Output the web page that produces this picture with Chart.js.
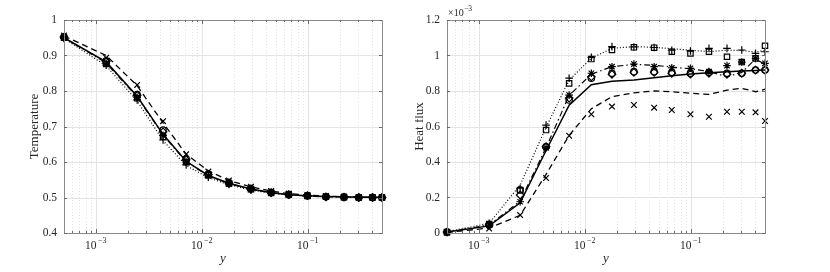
<!DOCTYPE html>
<html><head><meta charset="utf-8">
<script src="https://cdn.jsdelivr.net/npm/chart.js@4.4.1/dist/chart.umd.min.js"></script>
<style>
html,body{margin:0;padding:0;background:#fff;width:830px;height:272px;overflow:hidden}
.panel{position:absolute;top:0;width:415px;height:272px}
canvas{display:block}
</style></head><body>
<div class="panel" style="left:0"><canvas id="c1" width="415" height="272"></canvas></div>
<div class="panel" style="left:415px"><canvas id="c2" width="415" height="272"></canvas></div>
<script>
// ---------- data ----------
const yPos = [0.0005, 0.00125, 0.00245, 0.0043, 0.0071, 0.0115, 0.018, 0.029, 0.045, 0.066, 0.099, 0.148, 0.219, 0.302, 0.407, 0.5];
const xDecades = [0.001, 0.01, 0.1];
const xDecadeExp = ['\u22123', '\u22122', '\u22121'];
const xMinorTicks = [0.0006,0.0007,0.0008,0.0009, 0.002,0.003,0.004,0.005,0.006,0.007,0.008,0.009,
                     0.02,0.03,0.04,0.05,0.06,0.07,0.08,0.09, 0.2,0.3,0.4];
const tempTicks = [0.4, 0.5, 0.6, 0.7, 0.8, 0.9, 1];
const fluxTicks = [0, 0.2, 0.4, 0.6, 0.8, 1, 1.2];

// Temperature
const tempSolid   = [0.950, 0.882, 0.785, 0.678, 0.602, 0.562, 0.540, 0.524, 0.514, 0.508, 0.505, 0.503, 0.502, 0.501, 0.501, 0.500];
const tempDashed  = [0.955, 0.900, 0.815, 0.710, 0.622, 0.575, 0.548, 0.530, 0.518, 0.511, 0.507, 0.504, 0.502, 0.501, 0.501, 0.500];
const tempDotted  = [0.948, 0.871, 0.772, 0.660, 0.590, 0.556, 0.536, 0.521, 0.512, 0.507, 0.504, 0.502, 0.501, 0.500, 0.500, 0.500];
const tempDashDot = [0.950, 0.879, 0.783, 0.676, 0.601, 0.561, 0.539, 0.523, 0.513, 0.508, 0.504, 0.502, 0.501, 0.500, 0.500, 0.500];
const tempPlus    = [0.948, 0.873, 0.775, 0.662, 0.592, 0.557, 0.537, 0.521, 0.512, 0.507, 0.504, 0.502, 0.501, 0.500, 0.500, 0.500];
const tempStar    = [0.950, 0.878, 0.782, 0.675, 0.600, 0.561, 0.539, 0.523, 0.513, 0.508, 0.504, 0.502, 0.501, 0.500, 0.500, 0.500];
const tempCross   = [0.956, 0.894, 0.817, 0.715, 0.622, 0.573, 0.548, 0.530, 0.518, 0.511, 0.507, 0.504, 0.502, 0.501, 0.501, 0.500];
const tempSquare  = [0.950, 0.876, 0.780, 0.671, 0.600, 0.563, 0.539, 0.523, 0.513, 0.508, 0.504, 0.502, 0.501, 0.500, 0.500, 0.500];
const tempCircle  = [0.952, 0.885, 0.790, 0.690, 0.608, 0.566, 0.542, 0.525, 0.514, 0.508, 0.505, 0.502, 0.501, 0.500, 0.500, 0.500];
const tempDiamond = [0.952, 0.883, 0.788, 0.685, 0.606, 0.565, 0.541, 0.524, 0.514, 0.508, 0.505, 0.502, 0.501, 0.500, 0.500, 0.500];

// Heat flux (units of 1e-3)
const fluxSolid   = [0.005, 0.040, 0.170, 0.465, 0.720, 0.835, 0.855, 0.862, 0.874, 0.886, 0.896, 0.903, 0.908, 0.912, 0.915, 0.918];
const fluxDashed  = [0.003, 0.028, 0.100, 0.330, 0.550, 0.700, 0.768, 0.790, 0.800, 0.796, 0.787, 0.781, 0.805, 0.815, 0.796, 0.810];
const fluxDotted  = [0.007, 0.055, 0.270, 0.595, 0.862, 0.985, 1.040, 1.050, 1.046, 1.038, 1.030, 1.022, 1.030, 1.028, 1.020, 1.028];
const fluxDashDot = [0.005, 0.045, 0.180, 0.480, 0.775, 0.895, 0.937, 0.950, 0.945, 0.935, 0.925, 0.910, 0.880, 0.905, 0.980, 0.950];
const fluxPlus    = [0.006, 0.055, 0.252, 0.608, 0.872, 0.990, 1.050, 1.048, 1.045, 1.030, 1.025, 1.040, 1.040, 1.031, 1.012, 1.021];
const fluxStar    = [0.005, 0.045, 0.176, 0.480, 0.777, 0.900, 0.937, 0.952, 0.937, 0.931, 0.928, 0.909, 0.943, 0.963, 0.984, 0.956];
const fluxCross   = [0.003, 0.025, 0.101, 0.310, 0.548, 0.669, 0.712, 0.721, 0.706, 0.693, 0.669, 0.655, 0.683, 0.683, 0.680, 0.631];
const fluxSquare  = [0.005, 0.050, 0.242, 0.580, 0.843, 0.980, 1.031, 1.046, 1.044, 1.021, 1.012, 1.021, 0.993, 0.963, 0.984, 1.055];
const fluxCircle  = [0.005, 0.045, 0.242, 0.486, 0.749, 0.872, 0.900, 0.909, 0.909, 0.905, 0.900, 0.905, 0.900, 0.900, 0.918, 0.918];
const fluxDiamond = [0.005, 0.045, 0.214, 0.486, 0.760, 0.880, 0.894, 0.905, 0.905, 0.900, 0.895, 0.900, 0.894, 0.900, 0.918, 0.918];

// ---------- styling ----------
const FONT = "'Liberation Serif', 'DejaVu Serif', serif";
const TEXT = '#262626';
const MAJOR_GRID = '#e3e3e3';
const MINOR_GRID = '#e3e3e3';
const BOX = '#8a8a8a';

function pts(arr){ return yPos.map((x,i)=>({x:x, y:arr[i]})); }
function lineDs(arr, dash, w){
  return {data:pts(arr), borderColor:'#000', borderWidth:w, borderDash:dash, pointRadius:0,
          fill:false, tension:0, clip:false, order:2};
}
function markDs(arr, style, r){
  return {data:pts(arr), showLine:false, pointStyle:style, pointRadius:r, pointBorderWidth:1.2,
          pointBorderColor:'#000', pointBackgroundColor:'rgba(0,0,0,0)', borderColor:'#000', clip:false, order:1};
}
function makeSets(s){
  return [
    lineDs(s.solid, [], 1.5),
    lineDs(s.dashed, [6,4], 1.3),
    lineDs(s.dotted, [1,2], 1.2),
    lineDs(s.dashdot, [6,3,1.5,3], 1.2),
    markDs(s.plus, 'cross', 3.8),
    markDs(s.star, 'star', 3.8),
    markDs(s.cross, 'crossRot', 4),
    markDs(s.square, 'rect', 3.8),
    markDs(s.circle, 'circle', 3.2),
    markDs(s.diamond, 'rectRot', 3.8),
  ];
}

function decor(o){
  return {
    id:'decor',
    beforeDatasetsDraw(chart){
      const {ctx, chartArea:a, scales:{x,y}} = chart;
      ctx.save();
      ctx.lineWidth = 1;
      ctx.strokeStyle = MINOR_GRID; ctx.setLineDash([1,2]);
      xMinorTicks.forEach(v=>{ const p=Math.round(x.getPixelForValue(v))+0.5;
        ctx.beginPath(); ctx.moveTo(p,a.top); ctx.lineTo(p,a.bottom); ctx.stroke(); });
      ctx.setLineDash([]); ctx.strokeStyle = MAJOR_GRID;
      xDecades.forEach(v=>{ const p=Math.round(x.getPixelForValue(v))+0.5;
        ctx.beginPath(); ctx.moveTo(p,a.top); ctx.lineTo(p,a.bottom); ctx.stroke(); });
      o.yTicks.forEach(v=>{ const p=Math.round(y.getPixelForValue(v))+0.5;
        ctx.beginPath(); ctx.moveTo(a.left,p); ctx.lineTo(a.right,p); ctx.stroke(); });
      ctx.restore();
    },
    afterDraw(chart){
      const {ctx, chartArea:a, scales:{x,y}} = chart;
      ctx.save();
      // box
      ctx.strokeStyle = BOX; ctx.lineWidth = 1;
      ctx.strokeRect(Math.round(a.left)+0.5, Math.round(a.top)+0.5, Math.round(a.right-a.left), Math.round(a.bottom-a.top));
      // inward ticks
      ctx.strokeStyle = '#6a6a6a';
      const tk = (x1,y1,x2,y2)=>{ctx.beginPath();ctx.moveTo(x1,y1);ctx.lineTo(x2,y2);ctx.stroke();};
      xDecades.forEach(v=>{ const p=Math.round(x.getPixelForValue(v))+0.5;
        tk(p,a.bottom,p,a.bottom-4); tk(p,a.top,p,a.top+4); });
      xMinorTicks.forEach(v=>{ const p=Math.round(x.getPixelForValue(v))+0.5;
        tk(p,a.bottom,p,a.bottom-2); tk(p,a.top,p,a.top+2); });
      o.yTicks.forEach(v=>{ const p=Math.round(y.getPixelForValue(v))+0.5;
        tk(a.left,p,a.left+3,p); tk(a.right,p,a.right-3,p); });
      // x tick labels 10^n
      ctx.fillStyle = TEXT; ctx.textBaseline = 'alphabetic';
      xDecades.forEach((v,i)=>{
        const p = x.getPixelForValue(v);
        ctx.font = '11.5px ' + FONT; const w1 = ctx.measureText('10').width;
        ctx.font = '8px ' + FONT; const w2 = ctx.measureText(xDecadeExp[i]).width;
        const start = p - (w1+w2)/2 - 1;
        ctx.font = '11.5px ' + FONT; ctx.textAlign='left'; ctx.fillText('10', start, a.bottom+16);
        ctx.font = '8px ' + FONT; ctx.fillText(xDecadeExp[i], start+w1+1.5, a.bottom+10);
      });
      // x title
      ctx.font = 'italic 13px ' + FONT; ctx.textAlign='center'; ctx.textBaseline='middle';
      ctx.fillText('y', (a.left+a.right)/2, 259);
      // y title
      ctx.save();
      ctx.translate(o.yTitleX, (a.top+a.bottom)/2);
      ctx.rotate(-Math.PI/2);
      ctx.font = '13px ' + FONT; ctx.textAlign='center'; ctx.textBaseline='middle';
      ctx.fillText(o.yTitle, 0, 0);
      ctx.restore();
      if (o.note){
        ctx.textAlign='left'; ctx.textBaseline='alphabetic';
        ctx.font = '10px ' + FONT;
        ctx.fillText('\u00d710', a.left+1, 16);
        const w = ctx.measureText('\u00d710').width;
        ctx.font = '7.5px ' + FONT;
        ctx.fillText(o.note, a.left+1+w+0.5, 11);
      }
      ctx.restore();
    }
  };
}

function makeChart(id, sets, o){
  return new Chart(document.getElementById(id), {
    type:'line',
    data:{datasets:makeSets(sets)},
    options:{
      responsive:false, animation:false, devicePixelRatio:1,
      layout:{padding:{left:0, top:20, right:o.padRight, bottom:0}},
      plugins:{legend:{display:false}, tooltip:{enabled:false}},
      elements:{line:{borderCapStyle:'butt'}},
      scales:{
        x:{type:'logarithmic', min:yPos[0], max:yPos[yPos.length-1],
           grid:{display:false, drawTicks:false}, border:{display:false},
           ticks:{display:false},
           afterFit(s){ s.height = 39; }},
        y:{type:'linear', min:o.yMin, max:o.yMax,
           grid:{display:false, drawTicks:false, tickLength:0}, border:{display:false},
           afterBuildTicks(s){ s.ticks = o.yTicks.map(v=>({value:v})); },
           ticks:{color:TEXT, font:{family:FONT, size:11.5}, padding:7,
                  callback:(v)=>String(+Number(v).toFixed(1))},
           afterFit(s){ s.width = o.yWidth; }}
      }
    },
    plugins:[decor(o)]
  });
}

makeChart('c1', {solid:tempSolid, dashed:tempDashed, dotted:tempDotted, dashdot:tempDashDot,
  plus:tempPlus, star:tempStar, cross:tempCross, square:tempSquare, circle:tempCircle, diamond:tempDiamond},
  {yMin:0.4, yMax:1, yTicks:tempTicks, yWidth:64, padRight:33, yTitle:'Temperature', yTitleX:35});
makeChart('c2', {solid:fluxSolid, dashed:fluxDashed, dotted:fluxDotted, dashdot:fluxDashDot,
  plus:fluxPlus, star:fluxStar, cross:fluxCross, square:fluxSquare, circle:fluxCircle, diamond:fluxDiamond},
  {yMin:0, yMax:1.2, yTicks:fluxTicks, yWidth:32, padRight:65, yTitle:'Heat flux', yTitleX:5, note:'\u22123'});
</script>
</body></html>
